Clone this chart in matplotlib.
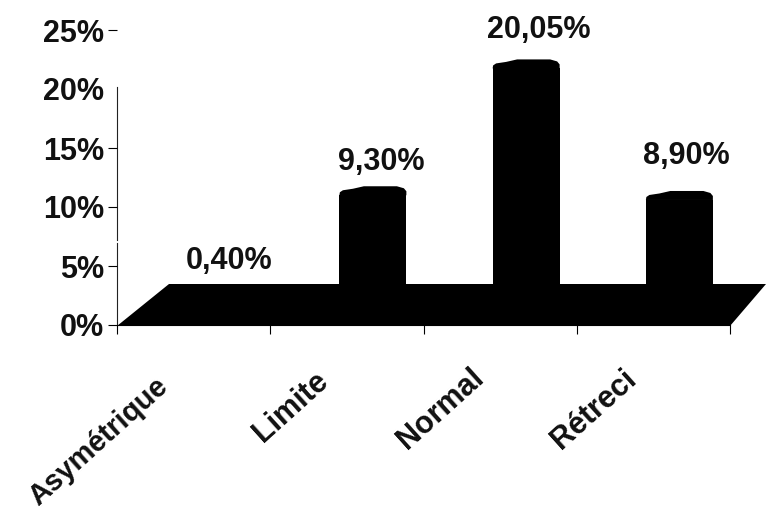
import matplotlib
matplotlib.use("Agg")
import matplotlib.pyplot as plt
from matplotlib.patches import Polygon
import numpy as np

categories = ["Asymétrique", "Limite", "Normal", "Rétreci"]
values = [0.40, 9.30, 20.05, 8.90]
value_labels = ["0,40%", "9,30%", "20,05%", "8,90%"]
y_ticks = [0, 5, 10, 15, 20, 25]
y_tick_labels = ["0%", "5%", "10%", "15%", "20%", "25%"]

# layout nudges, in pixels
label_nudges = [(8, 39), (7, 33), (12, 38), (6, 44)]
cat_nudges = [(-39, -47), (-33, -41), (-30, -38), (-31, -39)]
cat_sizes = [21, 22, 22, 22]

W, H = 766, 515
plt.rcParams['font.family'] = ['Liberation Sans', 'DejaVu Sans']
fig = plt.figure(figsize=(W/100, H/100), dpi=100)
L, R, B, T = 117, 730, 325, 30
ax = fig.add_axes([L/W, 1-B/H, (R-L)/W, (B-T)/H])
ax.set_xlim(0, 4)
ax.set_ylim(0, 25)
ax.patch.set_alpha(0)
for s in ["top", "right", "left"]:
    ax.spines[s].set_visible(False)
ax.spines["bottom"].set_linewidth(0.8)

px = 4/(R-L)
py = 25/(B-T)
# broken, scanned-looking y axis line
for y0, y1 in [(0, 6.95), (7.2, 20.2)]:
    ax.plot([0, 0], [y0, y1], color="#222222", lw=0.8, clip_on=False, zorder=1)

depth_x, depth_y = 52*px, 41*py
ax.add_patch(Polygon([(0, -1*py), (depth_x, depth_y), (4+depth_x-16*px, depth_y), (4, -1*py)],
                     closed=True, fc="black", ec="none", clip_on=False, zorder=2))

xs = np.arange(len(categories)) + 0.5
off_x, off_y = 26*px, 20*py
bw = 67*px
cap_dx = [-33.5, -33, -30, -20, -9, 24, 31, 33.5, 33.5]
cap_dy = [0, 3, 5, 6.5, 9, 9, 7, 4, 0]
for x, v, lab, (nx, ny) in zip(xs, values, value_labels, label_nudges):
    cx = x + off_x
    top = off_y + v
    if v > 1:
        ax.bar(cx, v, width=bw, bottom=off_y, color="black", zorder=3, clip_on=False)
        ax.add_patch(Polygon([(cx + a*px, top + b*py) for a, b in zip(cap_dx, cap_dy)],
                             closed=True, fc="black", ec="none", zorder=3, clip_on=False))
    ax.annotate(lab, xy=(cx, top), xytext=(nx + 1, ny), textcoords="offset pixels",
                ha="center", va="center", fontsize=22, fontweight="bold",
                color="#111111", zorder=4, annotation_clip=False)

ax.set_yticks(y_ticks)
ax.set_yticklabels(y_tick_labels, fontsize=22, fontweight="bold", color="#111111")
ax.tick_params(axis="y", length=6.5, width=0.8, pad=3)
yt = ax.yaxis.get_major_ticks()
yt[4].tick1line.set_visible(False)
yt[5].tick1line.set_color("#999999")
ax.set_xticks(np.arange(len(categories)+1))
ax.set_xticklabels([""]*(len(categories)+1))
ax.tick_params(axis="x", length=6.5, width=0.8, direction="out")
for x, c, (nx, ny), fs in zip(xs, categories, cat_nudges, cat_sizes):
    ax.annotate(c, xy=(x, 0), xytext=(nx, ny), textcoords="offset pixels", rotation=42,
                rotation_mode="anchor", ha="right", va="top", fontsize=fs, fontweight="bold",
                color="#111111", annotation_clip=False)
fig.savefig("out.png", dpi=100)
